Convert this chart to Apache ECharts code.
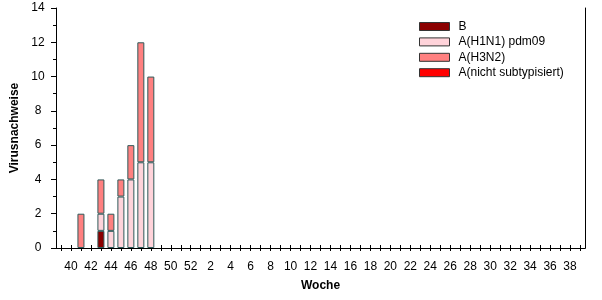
<!DOCTYPE html>
<html>
<head>
<meta charset="utf-8">
<script src="https://cdn.jsdelivr.net/npm/echarts@6/dist/echarts.min.js"></script>
<style>html,body{margin:0;padding:0;background:#fff;}#c{width:602px;height:300px;}</style>
</head>
<body>
<div id="c"></div>
<script>
var weeks = ['39','40','41','42','43','44','45','46','47','48','49','50','51','52',
  '1','2','3','4','5','6','7','8','9','10','11','12','13','14','15','16','17','18','19','20',
  '21','22','23','24','25','26','27','28','29','30','31','32','33','34','35','36','37','38','39'];
var seriesNames = ['B', 'A(H1N1) pdm09', 'A(H3N2)', 'A(nicht subtypisiert)'];
var valuesB    = [0,0,0,0,1,0,0,0,0,0, 0,0,0,0, 0,0,0,0,0,0,0,0,0,0,0,0,0,0,0,0,0,0,0,0,0,0,0,0,0,0,0,0,0,0,0,0,0,0,0,0,0,0,0];
var valuesH1N1 = [0,0,0,0,1,1,3,4,5,5, 0,0,0,0, 0,0,0,0,0,0,0,0,0,0,0,0,0,0,0,0,0,0,0,0,0,0,0,0,0,0,0,0,0,0,0,0,0,0,0,0,0,0,0];
var valuesH3N2 = [0,0,2,0,2,1,1,2,7,5, 0,0,0,0, 0,0,0,0,0,0,0,0,0,0,0,0,0,0,0,0,0,0,0,0,0,0,0,0,0,0,0,0,0,0,0,0,0,0,0,0,0,0,0];
var valuesNST  = [0,0,0,0,0,0,0,0,0,0, 0,0,0,0, 0,0,0,0,0,0,0,0,0,0,0,0,0,0,0,0,0,0,0,0,0,0,0,0,0,0,0,0,0,0,0,0,0,0,0,0,0,0,0];
var yTicks = [0,2,4,6,8,10,12,14];

var colors = ['#8B0000', '#FFD3DA', '#FF8080', '#FF0000'];
var allValues = [valuesB, valuesH1N1, valuesH3N2, valuesNST];
var font = 'Liberation Sans, Arial, sans-serif';
// unique category keys (position index); displayed text comes from weeks
var catKeys = weeks.map(function (w, i) { return String(i); });
var weekLabel = function (v) { return weeks[+v]; };

var chart = echarts.init(document.getElementById('c'), null, {renderer: 'canvas'});
var series = seriesNames.map(function (n, i) {
  return {
    name: n, type: 'bar', stack: 'all', barWidth: 7,
    xAxisIndex: 0, yAxisIndex: 0,
    itemStyle: {color: colors[i], borderColor: '#2F5A5A', borderWidth: 1},
    data: allValues[i].map(function (v) { return v === 0 ? null : v; })
  };
});
chart.setOption({
  animation: false,
  textStyle: {fontFamily: font},
  grid: {left: 56, right: 17, top: 8, bottom: 52, containLabel: false, outerBoundsMode: 'none'},
  legend: {
    orient: 'vertical', left: 419, top: 19, padding: 0,
    itemWidth: 30, itemHeight: 8, itemGap: 0.4,
    icon: 'rect',
    itemStyle: {borderColor: '#333333', borderWidth: 1},
    textStyle: {fontSize: 12, color: '#000', fontFamily: font, lineHeight: 15, padding: [0, 0, 0, 4]},
    data: seriesNames
  },
  xAxis: [
    {
      type: 'category', data: catKeys, position: 'bottom',
      name: 'Woche', nameLocation: 'middle', nameGap: 32,
      nameTextStyle: {fontWeight: 'bold', fontSize: 12, color: '#000', fontFamily: font},
      axisLine: {show: true, lineStyle: {color: '#000', width: 1}},
      axisTick: {show: true, interval: 0, alignWithLabel: true, length: 3, lineStyle: {color: '#000'}},
      axisLabel: {interval: function (idx) { return idx % 2 === 1; }, formatter: weekLabel,
        fontSize: 12, color: '#000', margin: 13, fontFamily: font},
      splitLine: {show: false}
    },
    {
      type: 'category', data: catKeys, position: 'bottom', offset: 0,
      axisLine: {show: false},
      axisTick: {show: true, inside: true, interval: 0, alignWithLabel: true, length: 3, lineStyle: {color: '#000'}},
      axisLabel: {show: false}, splitLine: {show: false}
    },
    {
      type: 'category', data: catKeys, position: 'top', offset: 0,
      axisLine: {show: true, lineStyle: {color: '#000', width: 1}},
      axisTick: {show: true, inside: true, interval: 0, alignWithLabel: true, length: 3, lineStyle: {color: '#000'}},
      axisLabel: {show: false}, splitLine: {show: false}
    }
  ],
  yAxis: [
    {
      type: 'value', min: 0, max: 14, interval: 2, position: 'left',
      name: 'Virusnachweise', nameLocation: 'middle', nameGap: 35, nameRotate: 90,
      nameTextStyle: {fontWeight: 'bold', fontSize: 12, color: '#000', fontFamily: font},
      axisLine: {show: true, lineStyle: {color: '#000', width: 1}},
      axisTick: {show: true, length: 5, lineStyle: {color: '#000'}},
      minorTick: {show: true, splitNumber: 2, length: 3, lineStyle: {color: '#000'}},
      axisLabel: {fontSize: 12, color: '#000', align: 'center', margin: 18, fontFamily: font,
        formatter: function (v) { return yTicks.indexOf(v) >= 0 ? String(v) : ''; }},
      splitLine: {show: false}
    },
    {
      type: 'value', min: 0, max: 14, interval: 2, position: 'left', offset: 0,
      axisLine: {show: false},
      axisTick: {show: false},
      minorTick: {show: true, splitNumber: 2, length: 3, lineStyle: {color: '#000'}},
      axisLabel: {show: false, inside: true},
      splitLine: {show: false}
    },
    {
      type: 'value', min: 0, max: 14, interval: 2, position: 'right', offset: 0,
      axisLine: {show: true, lineStyle: {color: '#000', width: 1}},
      axisTick: {show: false}, axisLabel: {show: false}, splitLine: {show: false}
    }
  ],
  series: series
});
</script>
</body>
</html>
